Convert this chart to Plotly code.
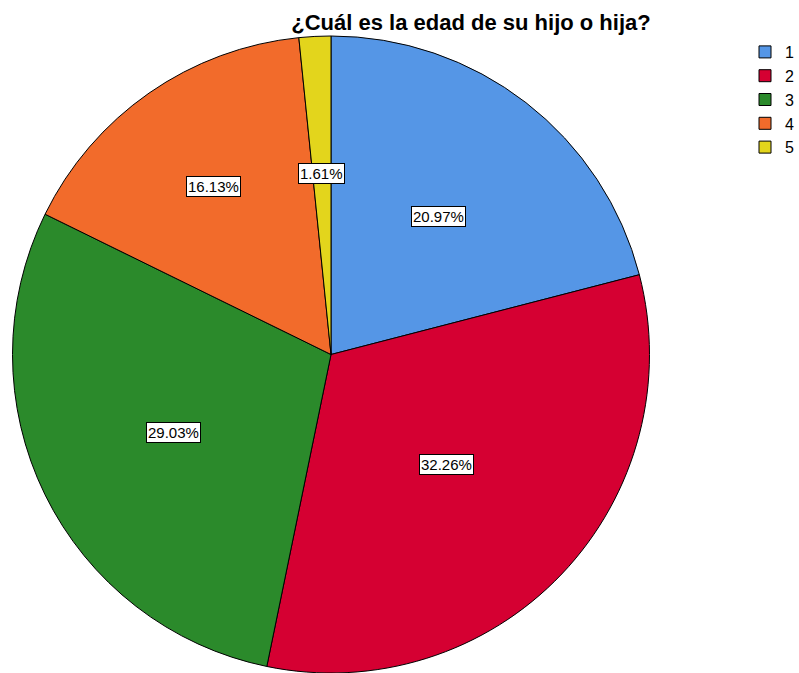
import math
import plotly.graph_objects as go

categories = ["1", "2", "3", "4", "5"]
percents = [20.97, 32.26, 29.03, 16.13, 1.61]
colors = ["#5596E6", "#D50032", "#2B8A2B", "#F26B2B", "#E3D51C"]

W, H = 799, 673
cx, cy, R = 331, 355, 319

fig = go.Figure(go.Pie(
    labels=categories,
    values=percents,
    sort=False,
    direction="clockwise",
    rotation=0,
    marker=dict(colors=colors, line=dict(color="black", width=1)),
    textinfo="none",
    hoverinfo="label+percent",
    domain=dict(x=[(cx - R) / W, (cx + R) / W],
                y=[max(0, 1 - (cy + R) / H), 1 - (cy - R) / H]),
))

# label boxes positioned at slice mid-angles
total = sum(percents)
cum = 0
rfrac = [0.55, 0.5, 0.55, 0.645, 0.57]
for i, p in enumerate(percents):
    mid = (cum + p / 2) / total * 2 * math.pi
    cum += p
    r = R * rfrac[i]
    px = cx + r * math.sin(mid)
    py = cy - r * math.cos(mid)
    fig.add_annotation(
        x=px / W, y=1 - py / H, xref="paper", yref="paper",
        xanchor="center", yanchor="middle",
        text=f"{p:.2f}%", showarrow=False,
        font=dict(family="Liberation Sans, Arial", size=15, color="black"),
        bgcolor="white", bordercolor="black", borderwidth=1, borderpad=1,
    )

fig.update_layout(
    width=W, height=H,
    margin=dict(l=0, r=0, t=0, b=0, autoexpand=False),
    paper_bgcolor="white",
    plot_bgcolor="white",
    title=dict(text="<b>¿Cuál es la edad de su hijo o hija?</b>",
               x=471 / W, xanchor="center", y=1 - 22 / H, yanchor="middle",
               font=dict(family="Liberation Sans, Arial", size=22, color="black")),
    legend=dict(x=745 / W, xanchor="left", y=1 - 35 / H, yanchor="top",
                font=dict(family="Liberation Sans, Arial", size=16, color="black"),
                itemwidth=30, tracegroupgap=0, bgcolor="rgba(0,0,0,0)"),
)

fig.write_html(
    "out.html",
    config={"displayModeBar": False},
    post_script="document.body.style.margin='0';document.body.style.overflow='hidden';",
)
